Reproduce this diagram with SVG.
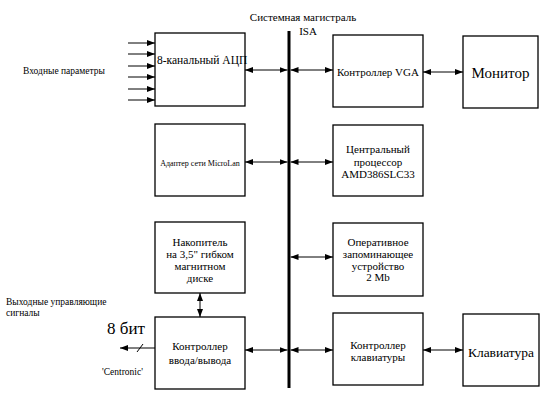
<svg xmlns="http://www.w3.org/2000/svg" width="553" height="406" viewBox="0 0 553 406">
<style>
.box{fill:#fff;stroke:#000;stroke-width:1.3}
.ln{stroke:#000;stroke-width:1;fill:none}
text{font-family:"Liberation Serif","Times New Roman",serif;fill:#000}
.t{font-size:11px;text-anchor:middle}
.s{font-size:9.5px}
</style>
<defs>
<marker id="ah" viewBox="0 0 8 6" refX="8" refY="3" markerWidth="8" markerHeight="6" markerUnits="userSpaceOnUse" orient="auto-start-reverse">
<path d="M0,0 L8,3 L0,6 z" fill="#000"/>
</marker>
</defs>
<rect width="553" height="406" fill="#fff"/>
<g id="connectors">
<line x1="289" y1="31" x2="289" y2="388" stroke="#000" stroke-width="3"/>
<g class="ln" marker-end="url(#ah)">
<line x1="128" y1="43" x2="155" y2="43"/>
<line x1="128" y1="54" x2="155" y2="54"/>
<line x1="128" y1="66" x2="155" y2="66"/>
<line x1="128" y1="77" x2="155" y2="77"/>
<line x1="128" y1="89" x2="155" y2="89"/>
<line x1="128" y1="100" x2="155" y2="100"/>
</g>
<g class="ln" marker-start="url(#ah)" marker-end="url(#ah)">
<line x1="245" y1="70" x2="287.5" y2="70"/>
<line x1="290.5" y1="70" x2="333" y2="70"/>
<line x1="423" y1="72" x2="463" y2="72"/>
<line x1="245" y1="162" x2="287.5" y2="162"/>
<line x1="290.5" y1="162" x2="333" y2="162"/>
<line x1="290.5" y1="257" x2="333" y2="257"/>
<line x1="200" y1="293" x2="200" y2="317"/>
<line x1="245" y1="350" x2="287.5" y2="350"/>
<line x1="290.5" y1="350" x2="333" y2="350"/>
<line x1="423" y1="350" x2="463" y2="350"/>
</g>
<line class="ln" x1="155" y1="348" x2="120" y2="348" marker-end="url(#ah)"/>
<line class="ln" x1="137" y1="352" x2="143" y2="344"/>
</g>
<g id="adc">
<rect class="box" x="155" y="33" width="90" height="73"/>
<text x="157" y="64" style="font-size:11.5px">8-канальный АЦП</text>
</g>
<g id="microlan">
<rect class="box" x="155" y="124" width="90" height="72"/>
<text class="t" x="200" y="166" style="font-size:8px">Адаптер сети MicroLan</text>
</g>
<g id="floppy">
<rect class="box" x="155" y="222" width="90" height="71"/>
<text class="t" x="200" y="246">Накопитель</text>
<text class="t" x="200" y="258">на 3,5" гибком</text>
<text class="t" x="200" y="270">магнитном</text>
<text class="t" x="200" y="282">диске</text>
</g>
<g id="io">
<rect class="box" x="155" y="317" width="90" height="72"/>
<text class="t" x="200" y="350">Контроллер</text>
<text class="t" x="200" y="364">ввода/вывода</text>
</g>
<g id="vga">
<rect class="box" x="333" y="35" width="90" height="72"/>
<text class="t" x="378" y="76">Контроллер VGA</text>
</g>
<g id="monitor">
<rect class="box" x="463" y="36" width="75" height="72"/>
<text class="t" x="500.5" y="78" style="font-size:15px">Монитор</text>
</g>
<g id="cpu">
<rect class="box" x="333" y="125" width="90" height="71"/>
<text class="t" x="378" y="153">Центральный</text>
<text class="t" x="378" y="166">процессор</text>
<text class="t" x="378" y="178">AMD386SLC33</text>
</g>
<g id="ram">
<rect class="box" x="333" y="223" width="90" height="73"/>
<text class="t" x="378" y="246">Оперативное</text>
<text class="t" x="378" y="258">запоминающее</text>
<text class="t" x="378" y="270">устройство</text>
<text class="t" x="378" y="281">2 Mb</text>
</g>
<g id="kbctrl">
<rect class="box" x="333" y="313" width="90" height="72"/>
<text class="t" x="378" y="349">Контроллер</text>
<text class="t" x="378" y="361">клавиатуры</text>
</g>
<g id="keyboard">
<rect class="box" x="463" y="314" width="76" height="72"/>
<text class="t" x="501" y="357" style="font-size:13.5px">Клавиатура</text>
</g>
<g id="labels">
<text x="303" y="21" style="font-size:11px" text-anchor="middle">Системная магистраль</text>
<text x="308" y="35" style="font-size:11px" text-anchor="middle">ISA</text>
<text class="s" x="23" y="74">Входные параметры</text>
<text class="s" x="6" y="305">Выходные управляющие</text>
<text class="s" x="6" y="316">сигналы</text>
<text x="107" y="334" style="font-size:17px">8 бит</text>
<text class="s" x="102" y="375">'Centronic'</text>
</g>
</svg>
